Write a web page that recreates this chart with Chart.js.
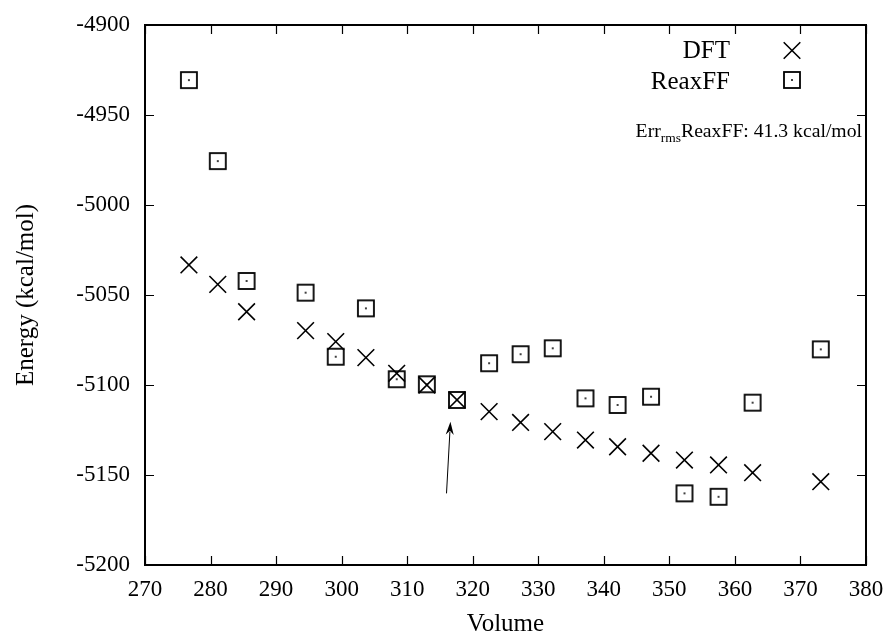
<!DOCTYPE html>
<html><head><meta charset="utf-8">
<script src="https://cdn.jsdelivr.net/npm/chart.js@4/dist/chart.umd.min.js"></script>
<style>html,body{margin:0;padding:0;background:#fff;}</style>
</head><body>
<canvas id="c" width="890" height="641" style="display:block;width:890px;height:641px"></canvas>
<script>
// ---- data ----
const volumes = [276.7, 281.1, 285.5, 294.5, 299.1, 303.7, 308.4, 313.0, 317.6, 322.5, 327.3, 332.2, 337.2, 342.1, 347.2, 352.3, 357.5, 362.7, 373.1];
const dftEnergy = [-5033.3, -5044.1, -5059.3, -5069.8, -5075.9, -5084.8, -5093.5, -5100.0, -5108.3, -5114.8, -5120.8, -5125.9, -5130.6, -5134.3, -5137.9, -5141.7, -5144.4, -5148.7, -5153.7];
const reaxffEnergy = [-4930.6, -4975.6, -5042.2, -5048.7, -5084.3, -5057.4, -5096.8, -5099.6, -5108.3, -5087.9, -5082.9, -5079.6, -5107.4, -5111.1, -5106.5, -5160.2, -5162.1, -5109.8, -5080.2];
const seriesLabels = ['DFT', 'ReaxFF'];
const xRange = [270, 380, 10];
const yRange = [-5200, -4900, 50];
const xTitle = 'Volume';
const yTitle = 'Energy (kcal/mol)';
const errText = ['Err', 'rms', 'ReaxFF: 41.3 kcal/mol'];
const arrowFrom = [316.0, -5160.2];
const arrowTo = [316.6, -5120.4];

const FONT = '"Liberation Serif", "Times New Roman", serif';

// square-with-dot marker image
function makeSquare() {
  const c = document.createElement('canvas');
  c.width = 22; c.height = 22;
  const g = c.getContext('2d');
  g.strokeStyle = '#000'; g.lineWidth = 1.8;
  g.strokeRect(3, 3, 16, 16);
  g.fillStyle = '#000';
  g.beginPath(); g.arc(11, 11, 1.0, 0, Math.PI * 2); g.fill();
  return c;
}
const squareImg = makeSquare();

function drawCross(ctx, x, y, h) {
  ctx.beginPath();
  ctx.moveTo(x - h, y - h); ctx.lineTo(x + h, y + h);
  ctx.moveTo(x - h, y + h); ctx.lineTo(x + h, y - h);
  ctx.stroke();
}

const decor = {
  id: 'decor',
  beforeDatasetsDraw(chart) {
    const {ctx, chartArea: a, scales: {x, y}} = chart;
    ctx.save();
    ctx.strokeStyle = '#000';
    ctx.lineWidth = 1.2;
    const tl = 9;
    x.ticks.forEach(t => {
      const px = Math.round(x.getPixelForValue(t.value)) + 0.5;
      ctx.beginPath();
      ctx.moveTo(px, a.bottom); ctx.lineTo(px, a.bottom - tl);
      ctx.moveTo(px, a.top); ctx.lineTo(px, a.top + tl);
      ctx.stroke();
    });
    y.ticks.forEach(t => {
      const py = Math.round(y.getPixelForValue(t.value)) + 0.5;
      ctx.beginPath();
      ctx.moveTo(a.left, py); ctx.lineTo(a.left + tl, py);
      ctx.moveTo(a.right, py); ctx.lineTo(a.right - tl, py);
      ctx.stroke();
    });
    ctx.lineWidth = 2;
    ctx.strokeRect(a.left, a.top, a.right - a.left, a.bottom - a.top);
    ctx.restore();
  },
  afterDatasetsDraw(chart) {
    const {ctx, scales: {x, y}} = chart;
    ctx.save();
    // legend
    ctx.fillStyle = '#000';
    ctx.font = '25px ' + FONT;
    ctx.textAlign = 'right';
    ctx.textBaseline = 'alphabetic';
    const ds = chart.data.datasets;
    ctx.fillText(ds[0].label, 730, 58);
    ctx.fillText(ds[1].label, 730, 89);
    ctx.strokeStyle = '#000';
    ctx.lineWidth = 1.6;
    drawCross(ctx, 792, 50.5, 8.3);
    ctx.drawImage(squareImg, 792 - 11, 80 - 11);
    // error annotation
    const right = 862;
    ctx.textAlign = 'left';
    ctx.font = '19.7px ' + FONT;
    const w0 = ctx.measureText(errText[0]).width;
    const w2 = ctx.measureText(errText[2]).width;
    ctx.font = '13.5px ' + FONT;
    const w1 = ctx.measureText(errText[1]).width;
    let sx = right - w0 - w1 - w2;
    ctx.font = '19.7px ' + FONT;
    ctx.fillText(errText[0], sx, 137);
    ctx.font = '13.5px ' + FONT;
    ctx.fillText(errText[1], sx + w0, 142);
    ctx.font = '19.7px ' + FONT;
    ctx.fillText(errText[2], sx + w0 + w1, 137);
    // arrow
    const x0 = x.getPixelForValue(arrowFrom[0]), y0 = y.getPixelForValue(arrowFrom[1]);
    const x1 = x.getPixelForValue(arrowTo[0]), y1 = y.getPixelForValue(arrowTo[1]);
    const ang = Math.atan2(y1 - y0, x1 - x0);
    const L = 13, W = 4;
    const bx = x1 - L * Math.cos(ang), by = y1 - L * Math.sin(ang);
    ctx.lineWidth = 1;
    ctx.beginPath(); ctx.moveTo(x0, y0); ctx.lineTo(bx + 3 * Math.cos(ang), by + 3 * Math.sin(ang)); ctx.stroke();
    ctx.beginPath();
    ctx.moveTo(x1, y1);
    ctx.lineTo(bx - W * Math.sin(ang), by + W * Math.cos(ang));
    ctx.lineTo(bx + 4 * Math.cos(ang), by + 4 * Math.sin(ang));
    ctx.lineTo(bx + W * Math.sin(ang), by - W * Math.cos(ang));
    ctx.closePath();
    ctx.fill();
    ctx.restore();
  }
};

new Chart(document.getElementById('c'), {
  type: 'scatter',
  data: {
    datasets: [
      {
        label: seriesLabels[0],
        data: volumes.map((v, i) => ({x: v, y: dftEnergy[i]})),
        pointStyle: 'crossRot',
        pointRadius: 11.8,
        pointHoverRadius: 11.8,
        pointBorderWidth: 1.6,
        borderColor: '#000',
        backgroundColor: '#000'
      },
      {
        label: seriesLabels[1],
        data: volumes.map((v, i) => ({x: v, y: reaxffEnergy[i]})),
        pointStyle: squareImg,
        pointRadius: 11,
        borderColor: '#000',
        backgroundColor: '#000'
      }
    ]
  },
  options: {
    responsive: false,
    animation: false,
    devicePixelRatio: 1,
    layout: {padding: {top: 25, right: 24, left: 0, bottom: 0}},
    plugins: {legend: {display: false}, tooltip: {enabled: false}},
    scales: {
      x: {
        type: 'linear',
        min: xRange[0], max: xRange[1],
        ticks: {stepSize: xRange[2], color: '#000', font: {family: FONT, size: 23}, padding: 11, maxRotation: 0,
                callback: v => String(v)},
        grid: {display: false, drawTicks: false},
        border: {display: false},
        title: {display: true, text: xTitle, color: '#000', font: {family: FONT, size: 25}, padding: {top: 0, bottom: 2}},
        afterFit(s) { s.height = 76; s.paddingLeft = 0; s.paddingRight = 0; }
      },
      y: {
        type: 'linear',
        min: yRange[0], max: yRange[1],
        ticks: {stepSize: yRange[2], color: '#000', font: {family: FONT, size: 23}, padding: 15,
                callback: v => String(v)},
        grid: {display: false, drawTicks: false},
        border: {display: false},
        title: {display: true, text: yTitle, color: '#000', font: {family: FONT, size: 25}, padding: {top: 11, bottom: 0}},
        afterFit(s) { s.width = 145; s.paddingTop = 0; s.paddingBottom = 0; }
      }
    }
  },
  plugins: [decor]
});
</script>
</body></html>
